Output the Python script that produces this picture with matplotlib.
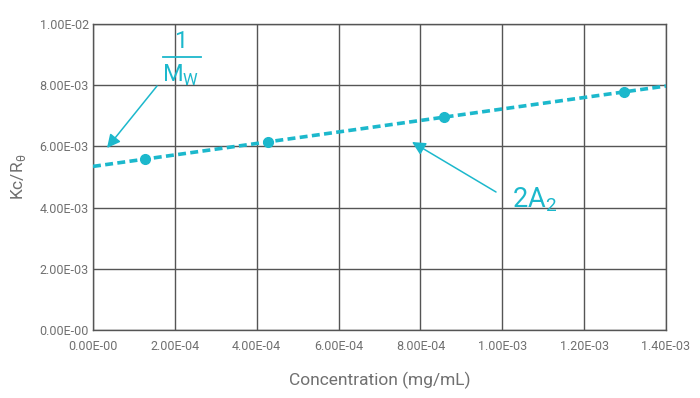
import matplotlib
matplotlib.use("Agg")
import matplotlib.pyplot as plt
import numpy as np
from matplotlib.ticker import FuncFormatter
from matplotlib.patches import FancyArrowPatch

concentration = [1.27e-4, 4.28e-4, 8.58e-4, 1.297e-3]
kc_r = [5.59e-3, 6.14e-3, 6.96e-3, 7.78e-3]
x_ticks = [0, 2e-4, 4e-4, 6e-4, 8e-4, 1e-3, 1.2e-3, 1.4e-3]
y_ticks = [0, 2e-3, 4e-3, 6e-3, 8e-3, 1e-2]

plt.rcParams['font.family'] = ['Roboto', 'DejaVu Sans']
cyan = '#1cb8cc'
grid_c = '#555555'
txt_c = '#707070'

fig = plt.figure(figsize=(7, 3.98), dpi=100)
ax = fig.add_axes([93/700, 68/398, 573/700, 306/398])

slope, intercept = np.polyfit(concentration, kc_r, 1)
xl = np.array([0, 1.4e-3])
ax.plot(xl, intercept + slope * xl, color=cyan, lw=2.6, dashes=(2.2, 1.2), zorder=3)
ax.plot(concentration, kc_r, 'o', color=cyan, ms=7, zorder=4)

ax.set_xlim(0, 1.4e-3)
ax.set_ylim(0, 1e-2)
ax.set_xticks(x_ticks)
ax.set_yticks(y_ticks)

def fmt(v, pos):
    if v == 0:
        return '0.00E-00'
    m, e = f'{v:.2E}'.split('E')
    return f'{m}E{e[0]}{e[1:].zfill(2)}'

ax.xaxis.set_major_formatter(FuncFormatter(fmt))
ax.yaxis.set_major_formatter(FuncFormatter(fmt))
ax.grid(True, color=grid_c, lw=1.0)
ax.set_axisbelow(True)
for s in ax.spines.values():
    s.set_color(grid_c)
    s.set_linewidth(1.0)
ax.tick_params(length=0, labelsize=9, colors=txt_c)
ax.tick_params(axis='x', pad=7)
ax.tick_params(axis='y', pad=3)
ax.set_xlabel('Concentration (mg/mL)', fontsize=12.5, color=txt_c, labelpad=14)
ax.set_ylabel(r'Kc/R$_\mathregular{θ}$', fontsize=12.5, color=txt_c, labelpad=8)

def arrow(x0, y0, x1, y1):
    a = FancyArrowPatch((x0/700, (398-y0)/398), (x1/700, (398-y1)/398),
                        transform=fig.transFigure, arrowstyle='-|>', color=cyan,
                        lw=1.1, mutation_scale=20, shrinkA=0, shrinkB=0, zorder=5)
    fig.add_artist(a)

arrow(157, 86, 107, 148)
fig.text(181/700, (398-42)/398, '1', color=cyan, fontsize=17, ha='center', va='center')
fig.add_artist(plt.Line2D([163/700, 201/700], [(398-57)/398]*2, color=cyan, lw=1.3))
fig.text(181/700, (398-75)/398, r'M$_\mathregular{W}$', color=cyan, fontsize=17, ha='center', va='center')

arrow(496, 192, 412, 142)
fig.text(512/700, (398-200)/398, r'2A$_\mathregular{2}$', color=cyan, fontsize=19.5, ha='left', va='center')

fig.savefig('out.png', dpi=100, facecolor='white')
